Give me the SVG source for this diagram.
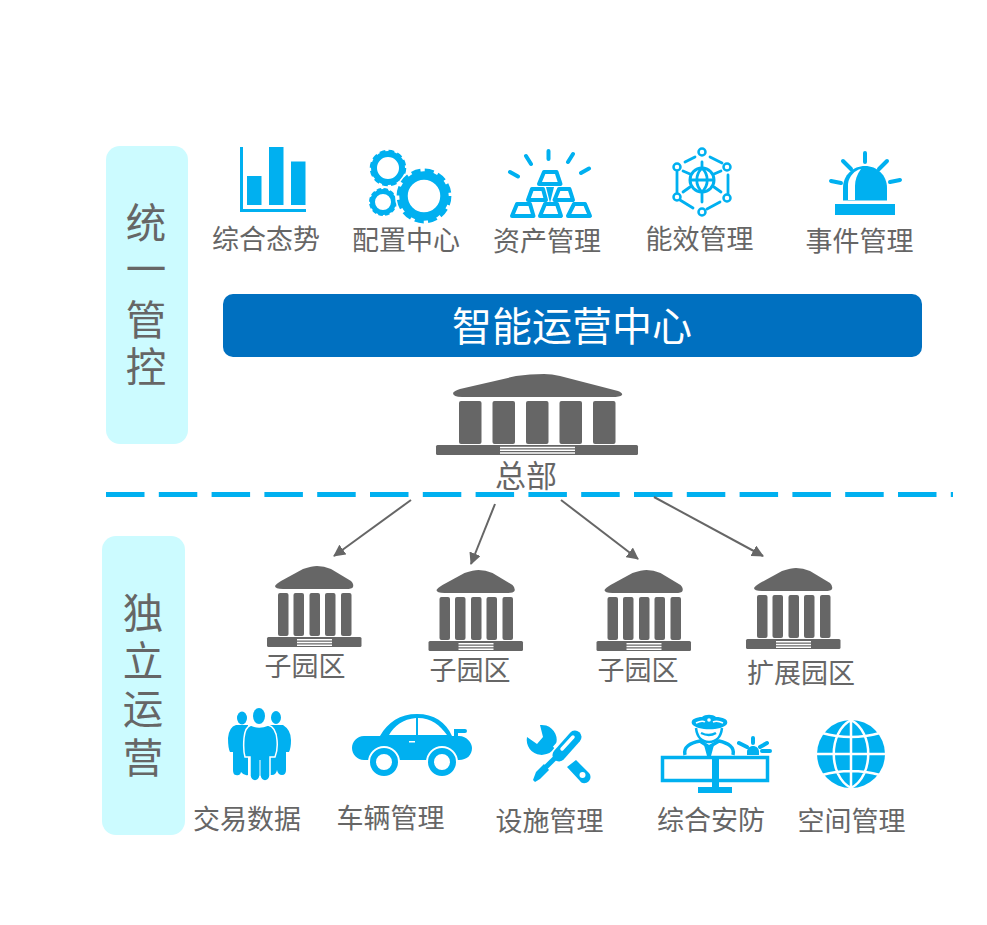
<svg xmlns="http://www.w3.org/2000/svg" width="987" height="925" viewBox="0 0 987 925">
<style>
text{font-family:"Noto Sans CJK SC","Noto Sans",sans-serif;fill:#666;text-anchor:middle}
.l{font-size:27px}
.v{font-size:40.500px}
.panel{fill:#ccfbff}
.g{fill:#666}
.b{fill:#00b0f0}
.s{fill:none;stroke:#00b0f0;stroke-width:3.500}
.r{fill:none;stroke:#00b0f0;stroke-width:4;stroke-linecap:round}
.t{fill:#fff;stroke:#00b0f0;stroke-width:4;stroke-linejoin:round}
.w{fill:none;stroke:#fff}
.n{fill:#fff;stroke:#00b0f0;stroke-width:2.500}
</style>
<defs>
<marker id="ah" viewBox="0 0 12 12" refX="11" refY="6" markerWidth="12" markerHeight="12" markerUnits="userSpaceOnUse" orient="auto"><path d="M0 0L12 6L0 12z" fill="#666"/></marker>
<g id="bld">
<path class="g" d="M275 586Q276 584 281 581L303 569Q312 566 317 566Q324 566 331 569L351 581Q354 584 353 587Q352 589 346 589H283Q275 589 275 586z"/>
<rect class="g" x="278" y="593" width="10.500" height="43" rx="2"/>
<rect class="g" x="293.500" y="593" width="10.500" height="43" rx="2"/>
<rect class="g" x="309.500" y="593" width="10.500" height="43" rx="2"/>
<rect class="g" x="325" y="593" width="10.500" height="43" rx="2"/>
<rect class="g" x="341" y="593" width="10.500" height="43" rx="2"/>
<rect class="g" x="267" y="637" width="94.500" height="10" rx="1.500"/>
<path class="w" stroke-width="1.500" d="M297 639.800H332M297 642.500H332M297 645.200H332"/>
</g>
</defs>
<rect class="panel" x="106" y="146" width="82" height="298" rx="14"/>
<rect class="panel" x="102" y="536" width="83" height="299" rx="14"/>
<text class="v"><tspan x="146" y="238">统</tspan><tspan x="146" y="284">一</tspan><tspan x="146" y="335">管</tspan><tspan x="146" y="382">控</tspan></text>
<text class="v"><tspan x="143" y="628">独</tspan><tspan x="143" y="676">立</tspan><tspan x="143" y="724">运</tspan><tspan x="143" y="773">营</tspan></text>

<g id="n-zonghe">
<path class="b" d="M240 147h3v62h63v3h-66z"/>
<rect class="b" x="247" y="176" width="14.500" height="29"/>
<rect class="b" x="269" y="147" width="14.500" height="58"/>
<rect class="b" x="291" y="161.500" width="14.500" height="43.500"/>
<text class="l" x="266" y="249">综合态势</text>
</g>
<g id="n-peizhi">
<circle cx="388" cy="168" r="14" fill="#fff" stroke="#00b0f0" stroke-width="6"/>
<circle cx="388" cy="168" r="16.500" fill="none" stroke="#00b0f0" stroke-width="3.500" stroke-dasharray="5.500 3.140"/>
<circle cx="383" cy="202" r="10.500" fill="#fff" stroke="#00b0f0" stroke-width="5"/>
<circle cx="383" cy="202" r="12.500" fill="none" stroke="#00b0f0" stroke-width="3" stroke-dasharray="4.400 2.150"/>
<circle cx="424" cy="196" r="29" fill="#fff"/>
<circle cx="424" cy="196" r="20.500" fill="#fff" stroke="#00b0f0" stroke-width="8.500"/>
<circle cx="424" cy="196" r="25.500" fill="none" stroke="#00b0f0" stroke-width="3.800" stroke-dasharray="9 4.350"/>
<text class="l" x="406" y="250">配置中心</text>
</g>
<g id="n-zichan">
<path class="r" stroke-width="4.500" d="M548.500 151V159M526 156L531 164M573 154L568 162M510 172L518 176.500M589 168.500L581 173"/>
<path class="t" d="M544 172H556.500L560.500 184H539z"/>
<path class="t" d="M532 189H543L546 200H528zM559 189H569.500L573 200H554.500z"/>
<path class="b" d="M546 187H554L550 203z"/>
<path class="t" d="M517 204H530L533.500 216H512zM545 204H557L561 216H540zM574 204H585L590 216H568z"/>
<text class="l" x="547" y="251">资产管理</text>
</g>
<g id="n-nengxiao">
<path fill="none" stroke="#00b0f0" stroke-width="2.800" stroke-linecap="round" d="M685 162L695 157M710 157L722 163M728 175V196M720 202L707 209M693 208L680 200M677 172V192M702 162V202M690 174L683 171M714 174L721 171M690 187L683 192M714 187L721 192"/>
<circle class="n" cx="702" cy="152" r="3.500"/>
<circle class="n" cx="727" cy="167" r="3.500"/>
<circle class="n" cx="727" cy="198" r="3.500"/>
<circle class="n" cx="702" cy="212" r="3.500"/>
<circle class="n" cx="677" cy="197" r="3.500"/>
<circle class="n" cx="677" cy="167" r="3.500"/>
<circle cx="702" cy="180" r="12" fill="#fff" stroke="#00b0f0" stroke-width="3"/>
<path fill="none" stroke="#00b0f0" stroke-width="2.800" d="M690 180H714M702 168C695 175 695 185 702 192M702 168C709 175 709 185 702 192"/>
<text class="l" x="699.500" y="249">能效管理</text>
</g>
<g id="n-shijian">
<path class="r" d="M865 153V162M843 161L851 169M887 161L879 169M831 181L841 183M900 180L890 182"/>
<path class="b" d="M843 200.500V188C843 175 853 166 865 166C877 166 887 175 887 188V200.500z"/>
<rect class="b" x="835" y="204" width="60" height="11"/>
<path fill="#fff" d="M848 200V184C849 176 855 170 861 169C857 174 855 180 855 186V200z"/>
<text class="l" x="859.500" y="251">事件管理</text>
</g>

<g id="n-center">
<rect x="223" y="294" width="699" height="63" rx="10" fill="#0070c0"/>
<text x="572" y="341" font-size="40px" style="fill:#fff">智能运营中心</text>
</g>
<g id="n-hq">
<path class="g" d="M453 393Q454 391 460 389L516 376Q530 374 544 374Q552 374 560 376L618 391Q623 393 622 395Q620 397 612 397H462Q453 397 453 393z"/>
<rect class="g" x="459" y="401" width="22.500" height="43" rx="2"/>
<rect class="g" x="492.500" y="401" width="22.500" height="43" rx="2"/>
<rect class="g" x="526" y="401" width="22.500" height="43" rx="2"/>
<rect class="g" x="559.500" y="401" width="22.500" height="43" rx="2"/>
<rect class="g" x="593" y="401" width="22.500" height="43" rx="2"/>
<rect class="g" x="436" y="445" width="202" height="10" rx="1.500"/>
<path class="w" stroke-width="1.500" d="M500 447.500H575M500 450.200H575M500 452.900H575"/>
<text x="526" y="487" font-size="31px">总部</text>
</g>
<line id="divider" x1="106" y1="494.500" x2="953" y2="494.500" stroke="#00b0f0" stroke-width="5" stroke-dasharray="38.500 14.300"/>
<g id="connectors" fill="none" stroke="#666" stroke-width="2">
<line x1="411" y1="500" x2="334" y2="556" marker-end="url(#ah)"/>
<line x1="495" y1="504" x2="471" y2="564" marker-end="url(#ah)"/>
<line x1="561" y1="500" x2="638" y2="559" marker-end="url(#ah)"/>
<line x1="654" y1="497" x2="763" y2="556" marker-end="url(#ah)"/>
</g>
<g id="n-sub1"><use href="#bld"/><text class="l" x="305" y="676">子园区</text></g>
<g id="n-sub2"><use href="#bld" transform="translate(161.500 4)"/><text class="l" x="470" y="680">子园区</text></g>
<g id="n-sub3"><use href="#bld" transform="translate(329.500 4)"/><text class="l" x="638" y="680">子园区</text></g>
<g id="n-sub4"><use href="#bld" transform="translate(479 2)"/><text class="l" x="801" y="683">扩展园区</text></g>

<g id="n-jiaoyi">
<ellipse class="b" cx="242" cy="718" rx="5" ry="6.500"/>
<ellipse class="b" cx="276" cy="717.500" rx="5" ry="6.500"/>
<path class="b" d="M236 725H248V775Q244 776 241 772Q240 776 236 775Q233 775 233 770V752H230Q228 748 228 738Q229 727 236 725z"/>
<path class="b" d="M270 725H283Q291 730 291 740Q291 748 289 752H286V770Q286 775 282 775Q278 775 277 770Q276 775 272 775H270z"/>
<path class="b" stroke="#fff" stroke-width="1.500" d="M251 725Q259 729 268 725Q276 727 277 740Q278 750 275 757H270V776Q269 781 265 781Q261 781 260 776Q259 781 255 781Q251 781 250 776V757H245Q243 750 244 738Q245 727 251 725z"/>
<path fill="none" stroke="#fff" stroke-width="1" d="M260 760V776"/>
<ellipse class="b" cx="259" cy="716" rx="6" ry="8"/>
<text class="l" x="247" y="829">交易数据</text>
</g>
<g id="n-cheliang">
<path class="b" d="M364 736H380C388 722 400 714 417 714C434 714 446 722 452 736H459C467 736 472 743 472 748C472 755 467 760 459 760H364C357 760 352 754 352 748C352 742 357 736 364 736z"/>
<path fill="#fff" d="M389 735C394 726 403 719 416 718V735zM418 718C431 718 440 725 447 735H418z"/>
<path class="r" stroke-width="3" d="M456 737V731H465"/>
<rect x="409" y="741" width="6" height="1.500" fill="#fff"/>
<circle cx="384" cy="762" r="16" fill="#fff"/>
<circle cx="442" cy="762" r="16" fill="#fff"/>
<circle cx="384" cy="762" r="11" fill="#fff" stroke="#00b0f0" stroke-width="6"/>
<circle cx="442" cy="762" r="11" fill="#fff" stroke="#00b0f0" stroke-width="6"/>
<text class="l" x="390.500" y="828">车辆管理</text>
</g>
<g id="n-sheshi">
<path class="b" d="M527 737L537 744L543 737L540 725A15 15 0 1 1 527 737z"/>
<path class="b" d="M576 760L589 773A6 6 0 0 1 589 781C586 784 582 784 580 781L567 767z"/>
<circle cx="582.500" cy="775" r="3" fill="#fff"/>
<line x1="575" y1="736" x2="560" y2="753" stroke="#fff" stroke-width="19"/>
<line x1="575" y1="737" x2="559" y2="755" stroke="#00b0f0" stroke-width="13" stroke-linecap="round"/>
<line x1="573" y1="737" x2="562" y2="749" stroke="#fff" stroke-width="3.500" stroke-linecap="round"/>
<line x1="555" y1="758" x2="544" y2="769" stroke="#00b0f0" stroke-width="5"/>
<path class="b" d="M544 764L549 770L540 779L535 782L533 780L536 772z"/>
<text class="l" x="549.500" y="831">设施管理</text>
</g>
<g id="n-anfang">
<rect x="662.500" y="757.500" width="105" height="23" fill="none" stroke="#00b0f0" stroke-width="3.500"/>
<path class="b" d="M712 757H719V787H732V793H698V787H712z"/>
<path class="s" stroke-width="3.500" d="M685 755C683 747 690 743 700 741L709 747L719 741C728 743 735 747 733 755"/>
<path class="b" d="M704 745L709 748L714 745L711 756H707z"/>
<path fill="#fff" stroke="#00b0f0" stroke-width="2.500" d="M696 728C697 737 702 742 709 742C716 742 721 737 722 728"/>
<path fill="none" stroke="#00b0f0" stroke-width="2.500" d="M701 733Q709 737 716 733"/>
<path class="b" d="M692 724C690 719 697 717 702 717C705 714 713 714 716 717C722 717 729 719 727 724C722 731 697 731 692 724z"/>
<circle cx="709" cy="720" r="1.800" fill="#fff"/>
<path class="w" stroke-width="1.500" d="M696 723Q702 720 705 722M713 722Q717 720 723 723"/>
<path class="b" d="M747 755V752C747 748 750 746 753 746C756 746 759 748 759 752V755z"/>
<path class="r" stroke-width="2.200" d="M753 743V738M747 747L739 743M760 747L767 743M762 751H770"/>
<text class="l" x="711" y="830">综合安防</text>
</g>
<g id="n-kongjian">
<circle class="b" cx="851" cy="754" r="34"/>
<path fill="none" stroke="#fff" stroke-width="2.500" d="M817 754H885M822 733Q851 741 880 733M822 775Q851 767 880 775M851 720V788M851 720C828 732 828 776 851 788M851 720C874 732 874 776 851 788"/>
<text class="l" x="851.500" y="831">空间管理</text>
</g>
</svg>
